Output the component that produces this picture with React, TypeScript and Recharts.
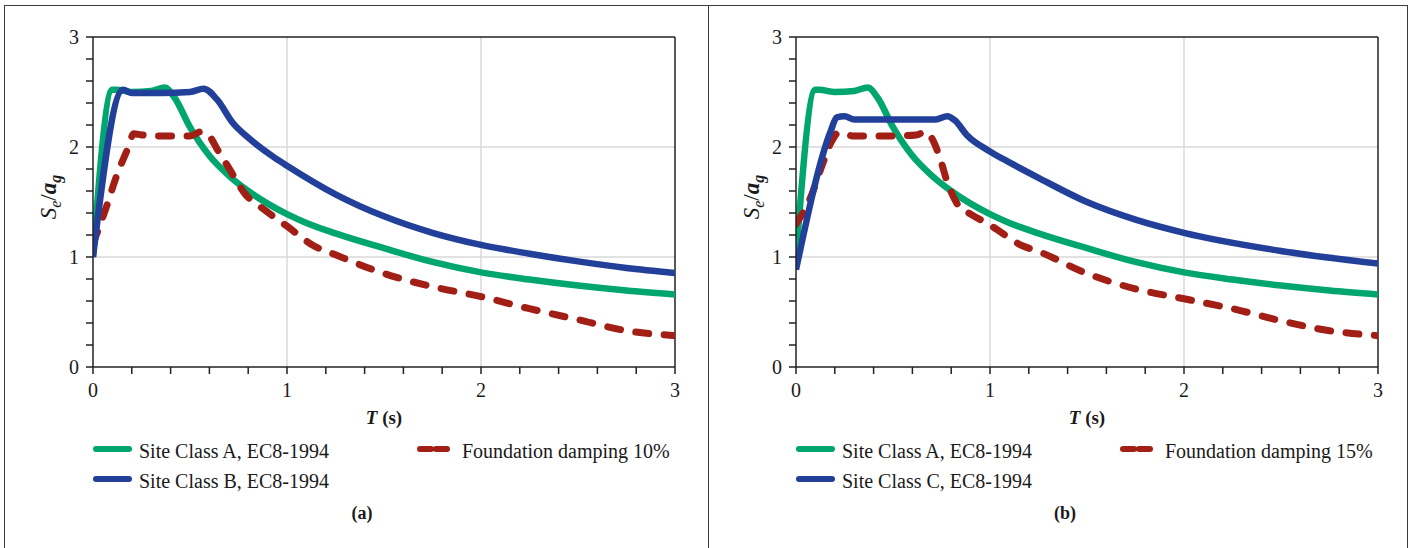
import React from 'react';
import { LineChart, Line, XAxis, YAxis, CartesianGrid, ReferenceLine } from 'recharts';

const FONT = '"Liberation Serif", "Times New Roman", serif';

const COLORS = {
  classA: '#00A66E',
  classBC: '#22409A',
  damping: '#A21F16',
  axis: '#222222',
  grid: '#d9d9d9',
  frame: '#3c3c3c',
};

// period axis and value axis ticks (minor every 0.2, labels on integers)
const periodTicks = [0, 0.2, 0.4, 0.6, 0.8, 1, 1.2, 1.4, 1.6, 1.8, 2, 2.2, 2.4, 2.6, 2.8, 3];
const ratioTicks = [0, 0.2, 0.4, 0.6, 0.8, 1, 1.2, 1.4, 1.6, 1.8, 2, 2.2, 2.4, 2.6, 2.8, 3];
const gridValues = [1, 2];

// Site Class A, EC8-1994 (same in both panels)
const siteA_T = [0, 0.1, 0.12, 0.2, 0.3, 0.37, 0.42, 0.5, 0.6, 0.7, 0.8, 0.9, 1.0, 1.1, 1.25, 1.5, 1.75, 2, 2.25, 2.5, 2.75, 3];
const siteA_Se = [1.0, 2.52, 2.52, 2.5, 2.51, 2.54, 2.45, 2.18, 1.92, 1.74, 1.6, 1.485, 1.39, 1.31, 1.215, 1.08, 0.955, 0.86, 0.795, 0.74, 0.695, 0.66];

// (a) Site Class B, EC8-1994
const siteB_T = [0, 0.155, 0.2, 0.35, 0.5, 0.57, 0.64, 0.72, 0.81, 0.93, 1.0, 1.25, 1.5, 1.75, 2, 2.25, 2.5, 2.75, 3];
const siteB_Se = [1.0, 2.52, 2.49, 2.49, 2.5, 2.53, 2.43, 2.22, 2.07, 1.91, 1.83, 1.57, 1.37, 1.22, 1.11, 1.03, 0.96, 0.9, 0.855];

// (a) Foundation damping 10%
const damp10_T = [0, 0.07, 0.12, 0.18, 0.21, 0.25, 0.35, 0.5, 0.56, 0.6, 0.64, 0.7, 0.79, 0.86, 1.0, 1.14, 1.25, 1.5, 1.75, 2, 2.25, 2.5, 2.75, 3];
const damp10_Se = [1.12, 1.46, 1.73, 1.99, 2.12, 2.11, 2.1, 2.1, 2.14, 2.1, 1.98, 1.81, 1.56, 1.46, 1.28, 1.1, 1.02, 0.85, 0.73, 0.64, 0.53, 0.43, 0.33, 0.285];

// (b) Site Class C, EC8-1994
const siteC_T = [0, 0.18, 0.21, 0.25, 0.3, 0.5, 0.72, 0.78, 0.82, 0.88, 1.0, 1.1, 1.25, 1.5, 1.75, 2, 2.5, 3];
const siteC_Se = [0.885, 2.15, 2.27, 2.28, 2.25, 2.25, 2.25, 2.28, 2.24, 2.11, 1.96, 1.86, 1.72, 1.5, 1.34, 1.22, 1.055, 0.94];

// (b) Foundation damping 15%
const damp15_T = [0, 0.07, 0.14, 0.18, 0.22, 0.3, 0.5, 0.62, 0.67, 0.7, 0.74, 0.78, 0.84, 0.9, 1.0, 1.17, 1.25, 1.5, 1.75, 2, 2.25, 2.5, 2.75, 3];
const damp15_Se = [1.3, 1.52, 1.86, 2.04, 2.13, 2.1, 2.1, 2.11, 2.14, 2.08, 1.91, 1.68, 1.46, 1.39, 1.29, 1.1, 1.05, 0.85, 0.71, 0.62, 0.53, 0.42, 0.33, 0.285];

const toPoints = (t: number[], v: number[]) => t.map((x, i) => ({ t: x, v: v[i] }));

const intLabel = (v: number) => (Math.abs(v - Math.round(v)) < 1e-6 ? String(Math.round(v)) : '');

type PanelProps = {
  left: number;
  caption: string;
  secondName: string;
  dampName: string;
  second: { t: number; v: number }[];
  damp: { t: number; v: number }[];
};

const tickStyle = { fill: '#1a1a1a', fontSize: 20, fontFamily: FONT };

const Panel = ({ left, caption, secondName, dampName, second, damp }: PanelProps) => {
  const siteA = toPoints(siteA_T, siteA_Se);
  return (
    <div style={{ position: 'absolute', left, top: 0, width: 705, height: 548 }}>
      <div style={{ position: 'absolute', left: 0, top: 0 }}>
        <LineChart width={700} height={420} margin={{ top: 37, right: 25, left: 0, bottom: 0 }}>
          <CartesianGrid stroke={COLORS.grid} strokeWidth={1.5} horizontalValues={gridValues} verticalValues={gridValues} />
          <XAxis
            type="number"
            dataKey="t"
            domain={[0, 3]}
            ticks={periodTicks}
            interval={0}
            tickFormatter={intLabel}
            height={53}
            tickSize={7}
            tickMargin={9}
            stroke={COLORS.axis}
            strokeWidth={1.5}
            tick={tickStyle}
            allowDataOverflow
          />
          <YAxis
            type="number"
            domain={[0, 3]}
            ticks={ratioTicks}
            interval={0}
            tickFormatter={intLabel}
            width={93}
            tickSize={7}
            tickMargin={7}
            stroke={COLORS.axis}
            strokeWidth={1.5}
            tick={tickStyle}
            allowDataOverflow
          />
          <ReferenceLine y={3} stroke={COLORS.axis} strokeWidth={1.5} />
          <ReferenceLine x={3} stroke={COLORS.axis} strokeWidth={1.5} />
          <Line data={siteA} dataKey="v" type="monotone" stroke={COLORS.classA} strokeWidth={6.5} dot={false} isAnimationActive={false} />
          <Line data={damp} dataKey="v" type="monotone" stroke={COLORS.damping} strokeWidth={7} strokeDasharray="13 15.5" strokeLinecap="round" dot={false} isAnimationActive={false} />
          <Line data={second} dataKey="v" type="monotone" stroke={COLORS.classBC} strokeWidth={6.5} dot={false} isAnimationActive={false} />
        </LineChart>
      </div>

      {/* y axis title */}
      <div style={{ position: 'absolute', left: 50, top: 197, width: 0, height: 0 }}>
        <div style={{ position: 'absolute', transform: 'translate(-50%, -50%) rotate(-90deg)', whiteSpace: 'nowrap', fontFamily: FONT, fontSize: 23, color: '#1a1a1a', lineHeight: '24px' }}>
          <i>S</i><i style={{ fontSize: 16, position: 'relative', top: 5 }}>e</i>/<b><i>a</i></b><b><i style={{ fontSize: 16, position: 'relative', top: 5 }}>g</i></b>
        </div>
      </div>

      {/* x axis title */}
      <div style={{ position: 'absolute', left: 384, top: 408, transform: 'translateX(-50%)', whiteSpace: 'nowrap', fontFamily: FONT, fontSize: 19, fontWeight: 'bold', lineHeight: '20px', color: '#1a1a1a' }}>
        <i>T</i> (s)
      </div>

      {/* legend */}
      <svg style={{ position: 'absolute', left: 0, top: 0 }} width={705} height={548}>
        <line x1={96} x2={129} y1={449} y2={449} stroke={COLORS.classA} strokeWidth={6} strokeLinecap="round" />
        <line x1={96} x2={129} y1={479} y2={479} stroke={COLORS.classBC} strokeWidth={6} strokeLinecap="round" />
        <line x1={420} x2={451} y1={449} y2={449} stroke={COLORS.damping} strokeWidth={6} strokeLinecap="round" strokeDasharray="11 5" />
      </svg>
      {[
        { text: 'Site Class A, EC8-1994', x: 139, y: 441 },
        { text: secondName, x: 139, y: 471 },
        { text: dampName, x: 462, y: 441 },
      ].map((d) => (
        <div key={d.text} style={{ position: 'absolute', left: d.x, top: d.y, fontFamily: FONT, fontSize: 20, lineHeight: '20px', whiteSpace: 'nowrap', color: '#1a1a1a' }}>
          {d.text}
        </div>
      ))}

      {/* caption */}
      <div style={{ position: 'absolute', left: 362, top: 503, transform: 'translateX(-50%)', fontFamily: FONT, fontSize: 18, fontWeight: 'bold', lineHeight: '20px', color: '#1a1a1a' }}>
        {caption}
      </div>
    </div>
  );
};

export default function App() {
  return (
    <div style={{ position: 'absolute', left: 0, top: 0, width: 1415, height: 548, overflow: 'hidden', background: '#fff' }}>
      <div style={{ position: 'absolute', left: 4, top: 5, width: 1404, height: 600, border: `1.5px solid ${COLORS.frame}`, boxSizing: 'border-box' }} />
      <div style={{ position: 'absolute', left: 707.5, top: 5, width: 1.5, height: 600, background: COLORS.frame }} />
      <Panel
        left={0}
        caption="(a)"
        secondName="Site Class B, EC8-1994"
        dampName="Foundation damping 10%"
        second={toPoints(siteB_T, siteB_Se)}
        damp={toPoints(damp10_T, damp10_Se)}
      />
      <Panel
        left={703}
        caption="(b)"
        secondName="Site Class C, EC8-1994"
        dampName="Foundation damping 15%"
        second={toPoints(siteC_T, siteC_Se)}
        damp={toPoints(damp15_T, damp15_Se)}
      />
    </div>
  );
}
